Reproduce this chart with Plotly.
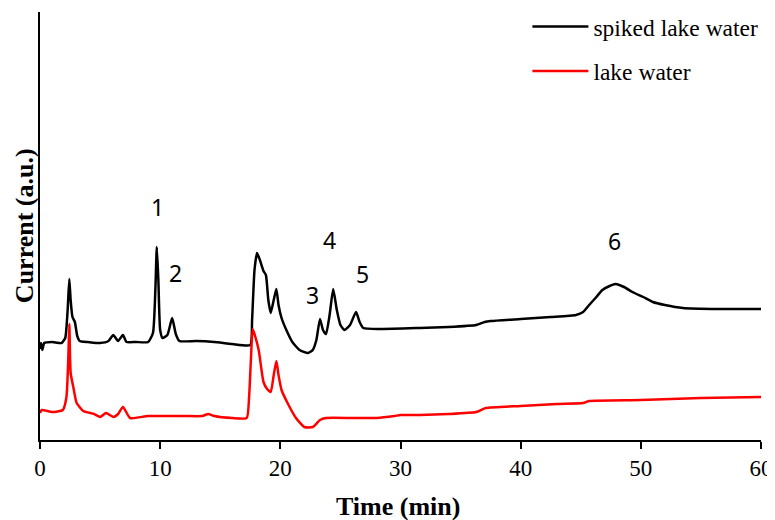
import plotly.graph_objects as go

# retention time (min) and detector current (a.u.)
spikedTime = [0.0, 0.08, 0.2, 0.35, 1.0, 1.8, 2.1, 2.3, 2.44, 2.55,
              2.7, 2.9, 3.1, 3.3, 4.0, 5.0, 5.7, 6.1, 6.5, 6.9,
              7.2, 8.0, 9.0, 9.4, 9.6, 9.72, 9.85, 10.0, 10.2, 10.6,
              11.0, 11.3, 11.6, 13.0, 14.5, 16.0, 17.5, 17.65, 17.85, 18.06,
              18.3, 18.6, 18.8, 19.0, 19.2, 19.45, 19.67, 19.85, 20.1, 20.5,
              21.0, 21.6, 22.3, 22.7, 23.0, 23.3, 23.55, 23.8, 24.1, 24.4,
              24.7, 25.0, 25.35, 25.8, 26.3, 26.6, 26.9, 28.3, 31.6, 34.0,
              36.3, 37.0, 37.5, 40.0, 42.5, 44.6, 45.2, 45.7, 46.3, 46.8,
              47.4, 47.9, 48.6, 49.3, 50.2, 51.0, 52.0, 53.5, 56.5, 60.0]
spikedCurrent = [83, 89, 82, 89, 90, 89, 94, 122, 153, 132,
                 115, 110, 96, 91, 90, 89, 91, 97, 91, 97,
                 90, 90, 90, 99, 142, 185, 152, 102, 94, 97,
                 114, 98, 91, 91, 90, 88, 87, 112, 162, 179,
                 172, 161, 157, 132, 119, 132, 143, 127, 114, 102,
                 90, 82, 79, 82, 92, 113, 102, 98, 117, 143,
                 122, 107, 102, 107, 120, 110, 104, 103, 104, 105,
                 107, 110, 111, 113, 115, 117, 120, 127, 135, 142,
                 146, 148, 145, 140, 135, 130, 127, 124, 123, 123]

lakeTime = [0.0, 0.15, 1.0, 1.9, 2.2, 2.35, 2.44, 2.55, 2.77, 3.05,
            3.6, 4.5, 5.0, 5.5, 6.1, 6.5, 6.9, 7.5, 9.0, 12.0,
            13.5, 14.0, 14.5, 16.0, 17.2, 17.4, 17.55, 17.7, 17.9, 18.2,
            18.6, 18.9, 19.2, 19.45, 19.67, 19.85, 20.1, 20.6, 21.3, 22.0,
            22.7, 23.3, 23.8, 26.0, 28.0, 29.5, 30.0, 31.6, 34.0, 36.3,
            37.1, 40.0, 43.0, 45.2, 45.7, 50.0, 55.0, 60.0]
lakeCurrent = [19, 22, 20, 22, 35, 72, 108, 59, 45, 29,
               21, 18, 15, 19, 15, 18, 25, 14, 16, 16,
               16, 18, 16, 14, 14, 35, 72, 103, 96, 82,
               50, 43, 40, 57, 71, 57, 42, 29, 14, 5,
               5, 12, 14, 14, 14, 16, 17, 17, 18, 20,
               24, 26, 28, 29, 31, 32, 34, 35]

# peak numbers and where they are written
peakLabels = ["1", "2", "3", "4", "5", "6"]
peakLabelTime = [9.8, 11.3, 22.7, 24.1, 26.8, 47.8]
peakLabelCurrent = [225, 159, 137, 192, 158, 191]

xTicks = [0, 10, 20, 30, 40, 50, 60]


def main():

    fig = go.Figure()

    fig.add_trace(go.Scatter(x=spikedTime, y=spikedCurrent, mode='lines',
                             name='spiked lake water', legendgroup='a',
                             line=dict(color='black', width=2.5, shape='spline', smoothing=0.5)))
    fig.add_trace(go.Scatter(x=lakeTime, y=lakeCurrent, mode='lines',
                             name='lake water', legendgroup='b',
                             line=dict(color='#ff0000', width=2.5, shape='spline', smoothing=0.5)))

    for label, t, c in zip(peakLabels, peakLabelTime, peakLabelCurrent):
        fig.add_annotation(x=t, y=c, text=label, showarrow=False,
                           font=dict(family='Noto Sans', size=23, color='black'))

    # axis titles as annotations so they sit exactly where the original has them
    fig.add_annotation(x=0.497, y=-0.155, xref='paper', yref='paper', text='<b>Time (min)</b>',
                       showarrow=False, xanchor='center', yanchor='middle',
                       font=dict(family='Liberation Serif', size=26, color='black'))
    fig.add_annotation(x=-0.022, y=0.5, xref='paper', yref='paper', text='<b>Current (a.u.)</b>',
                       showarrow=False, textangle=-90, xanchor='center', yanchor='middle',
                       font=dict(family='Liberation Serif', size=26, color='black'))

    fig.update_layout(
        width=775, height=512,
        margin=dict(l=32, r=22, t=4, b=80, autoexpand=False),
        paper_bgcolor='white', plot_bgcolor='white',
        showlegend=True,
        legend=dict(x=0.676, y=1.017, xanchor='left', yanchor='top', itemwidth=56,
                    font=dict(family='Liberation Serif', size=23.5, color='black'),
                    tracegroupgap=11, bgcolor='rgba(0,0,0,0)'),
        xaxis=dict(range=[0, 60], tickvals=xTicks, ticks='outside', ticklen=7,
                   tickcolor='black', tickwidth=1.5, showline=True, linecolor='black', linewidth=1.5,
                   showgrid=False, zeroline=False, automargin=False,
                   tickfont=dict(family='Liberation Serif', size=23, color='black')),
        yaxis=dict(range=[-8, 420], showticklabels=False, ticks='', showline=True,
                   linecolor='black', linewidth=1.5, showgrid=False, zeroline=False,
                   automargin=False),
    )

    # the page's default body margin would otherwise bring up scrollbars
    fig.write_html("out.html", post_script="document.body.style.overflow='hidden';")


if __name__ == "__main__":
    main()
